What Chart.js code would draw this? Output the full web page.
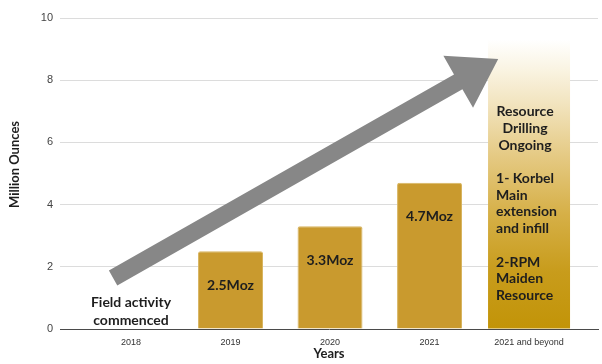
<!DOCTYPE html>
<html>
<head>
<meta charset="utf-8">
<script src="https://cdn.jsdelivr.net/npm/chart.js@4/dist/chart.umd.min.js"></script>
<style>
  html, body { margin: 0; padding: 0; background: #ffffff; }
  #wrap { width: 602px; height: 364px; }
</style>
</head>
<body>
<div id="wrap"><canvas id="c" width="602" height="364"></canvas></div>
<script>
// ---- data ----
const categories = ['2018', '2019', '2020', '2021', '2021 and beyond'];
const production = [0, 2.5, 3.3, 4.7, null];        // Moz, golden bars
const outlook = [null, null, null, null, 9.3];       // gradient "beyond" bar
const barLabels = ['', '2.5Moz', '3.3Moz', '4.7Moz', ''];
const yTicks = [0, 2, 4, 6, 8, 10];
const fieldNote = ['Field activity', 'commenced'];
const outlookHeader = ['Resource', 'Drilling', 'Ongoing'];
const outlookItems = ['1- Korbel', 'Main', 'extension', 'and infill', '', '2-RPM', 'Maiden', 'Resource'];
const arrowFrom = { x: -0.18, y: 1.64 };
const arrowTo = { x: 3.69, y: 8.68 };
const yTitle = 'Million Ounces';
const xTitle = 'Years';

// ---- styles ----
const BOLD = 'bold 14px Lato, "Open Sans", sans-serif';
const TEXT = '#1e1e1e';

function outlookGradient(ctx) {
  const chart = ctx.chart;
  const { chartArea, scales } = chart;
  if (!chartArea || !scales.y) return '#c99a2e';
  const top = scales.y.getPixelForValue(Math.max(...outlook.filter(v => v != null)));
  const bottom = scales.y.getPixelForValue(0);
  const g = chart.ctx.createLinearGradient(0, top, 0, bottom);
  g.addColorStop(0.00, '#ffffff');
  g.addColorStop(0.10, '#faf4e3');
  g.addColorStop(0.22, '#f2e4bf');
  g.addColorStop(0.40, '#e5ca84');
  g.addColorStop(0.60, '#d6b048');
  g.addColorStop(0.80, '#c89c1c');
  g.addColorStop(1.00, '#c29408');
  return g;
}

const annotations = {
  id: 'annotations',
  afterDatasetsDraw(chart) {
    const { ctx, scales } = chart;
    const xs = scales.x, ys = scales.y;

    // arrow
    const p0 = { x: xs.getPixelForValue(arrowFrom.x), y: ys.getPixelForValue(arrowFrom.y) };
    const p1 = { x: xs.getPixelForValue(arrowTo.x), y: ys.getPixelForValue(arrowTo.y) };
    const dx = p1.x - p0.x, dy = p1.y - p0.y, len = Math.hypot(dx, dy);
    const ux = dx / len, uy = dy / len, nx = -uy, ny = ux;
    const sw = 17 / 2, hw = 60 / 2, hl = 46;
    const bx = p1.x - ux * hl, by = p1.y - uy * hl;
    ctx.save();
    ctx.fillStyle = '#878787';
    ctx.beginPath();
    ctx.moveTo(p0.x + nx * sw, p0.y + ny * sw);
    ctx.lineTo(bx + nx * sw, by + ny * sw);
    ctx.lineTo(bx + nx * hw, by + ny * hw);
    ctx.lineTo(p1.x, p1.y);
    ctx.lineTo(bx - nx * hw, by - ny * hw);
    ctx.lineTo(bx - nx * sw, by - ny * sw);
    ctx.lineTo(p0.x - nx * sw, p0.y - ny * sw);
    ctx.closePath();
    ctx.fill();

    ctx.fillStyle = TEXT;
    ctx.font = BOLD;
    ctx.textBaseline = 'middle';

    // bar value labels
    const m0 = chart.getDatasetMeta(0);
    m0.data.forEach((el, i) => {
      if (!barLabels[i]) return;
      ctx.textAlign = 'center';
      ctx.fillText(barLabels[i], el.x, el.y + 34);
    });

    // field note under 2018
    ctx.textAlign = 'center';
    const fx = xs.getPixelForValue(0);
    const base = ys.getPixelForValue(0);
    fieldNote.forEach((t, i) => ctx.fillText(t, fx, base - 27 + i * 18));

    // outlook note in gradient bar
    const m1 = chart.getDatasetMeta(1);
    const el = m1.data[4];
    if (el) {
      const lh = 16.7;
      let y = el.y + 72;
      const cx = el.x - 4;
      ctx.textAlign = 'center';
      outlookHeader.forEach(t => { ctx.fillText(t, cx, y); y += lh; });
      y += lh;
      ctx.textAlign = 'left';
      const lx = el.x - el.width / 2 + 8;
      outlookItems.forEach(t => { if (t) ctx.fillText(t, lx, y); y += lh; });
    }

    // y axis title
    ctx.save();
    ctx.font = 'bold 13px Lato, "Open Sans", sans-serif';
    ctx.fillStyle = TEXT;
    ctx.textAlign = 'center';
    ctx.textBaseline = 'middle';
    ctx.translate(15, (0 + ys.bottom) / 2);
    ctx.rotate(-Math.PI / 2);
    ctx.fillText(yTitle, 0, 0);
    ctx.restore();

    ctx.restore();
  }
};

new Chart(document.getElementById('c'), {
  type: 'bar',
  data: {
    datasets: [
      {
        label: 'Resource',
        data: production.map((v, i) => ({ x: i, y: v })),
        backgroundColor: '#c99a2e',
        borderColor: '#d8b561',
        borderWidth: { top: 1, left: 1, right: 1, bottom: 0 },
        borderRadius: 2,
        borderSkipped: 'bottom',
        barPercentage: 0.653,
        categoryPercentage: 1,
        grouped: false
      },
      {
        label: 'Outlook',
        data: outlook.map((v, i) => ({ x: i, y: v })),
        backgroundColor: outlookGradient,
        borderWidth: 0,
        barPercentage: 0.824,
        categoryPercentage: 1,
        grouped: false
      }
    ]
  },
  options: {
    responsive: false,
    animation: false,
    devicePixelRatio: 1,
    layout: { padding: { top: 18, right: 4, bottom: 0, left: 0 } },
    plugins: { legend: { display: false }, tooltip: { enabled: false } },
    scales: {
      x: {
        type: 'linear',
        offset: false,
        bounds: 'data',
        min: -0.7136,
        max: 4.693,
        afterBuildTicks: s => { s.ticks = categories.map((_, i) => ({ value: i })); },
        afterFit: s => { s.height = 35; },
        grid: { display: false, drawTicks: false },
        border: { display: true, color: '#4a4a4a', width: 1 },
        ticks: {
          callback: v => categories[v],
          autoSkip: false,
          maxRotation: 0,
          padding: 8,
          color: '#333333',
          font: { family: '"Liberation Sans", Arial, sans-serif', size: 9 }
        },
        title: {
          display: true,
          text: xTitle,
          color: TEXT,
          padding: { top: 0, bottom: 2 },
          font: { family: 'Lato, "Open Sans", sans-serif', size: 13, weight: 'bold' }
        }
      },
      y: {
        min: 0,
        max: 10,
        afterBuildTicks: s => { s.ticks = yTicks.map(v => ({ value: v })); },
        afterFit: s => { s.width = 60; },
        grid: {
          drawTicks: false,
          color: c => (c.tick && c.tick.value === 0) ? 'rgba(0,0,0,0)' : '#dcdcdc',
          lineWidth: 1
        },
        border: { display: false },
        ticks: {
          padding: 7,
          color: '#444444',
          font: { family: '"Liberation Sans", Arial, sans-serif', size: 11 }
        }
      }
    }
  },
  plugins: [annotations]
});
</script>
</body>
</html>
